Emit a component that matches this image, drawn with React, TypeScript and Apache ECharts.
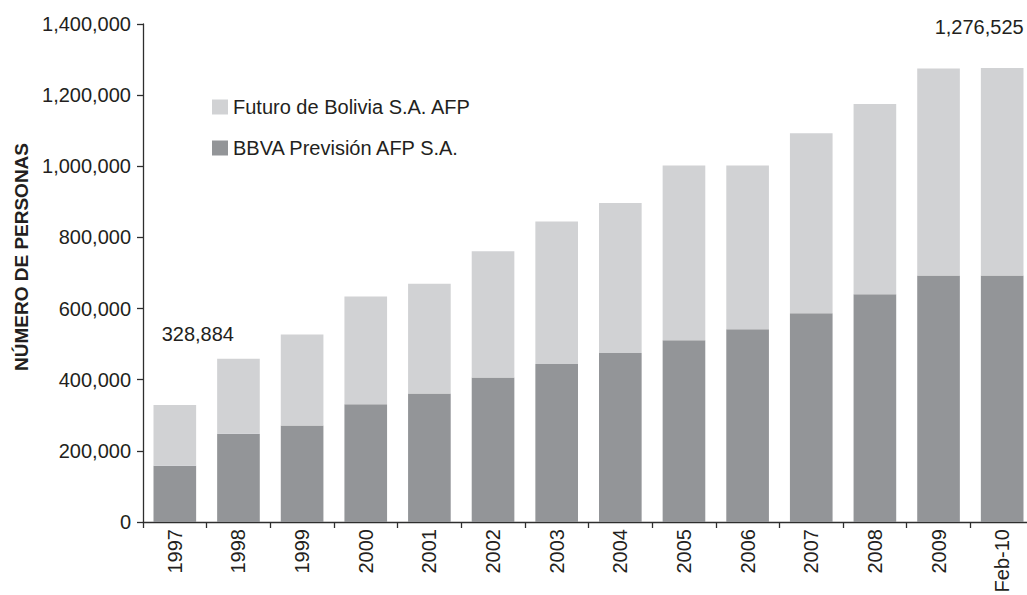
import React, { useEffect, useRef } from "react";
import * as echarts from "echarts";

const categories = ["1997", "1998", "1999", "2000", "2001", "2002", "2003", "2004", "2005", "2006", "2007", "2008", "2009", "Feb-10"];
const bbvaPrevision = [158000, 248000, 271000, 331000, 361000, 406000, 444000, 475000, 511000, 542000, 587000, 640000, 693000, 693000];
const futuroBolivia = [170884, 211000, 256000, 303000, 309000, 355000, 401000, 422000, 491000, 460000, 506000, 535000, 582000, 583525];
const yTicks = [0, 200000, 400000, 600000, 800000, 1000000, 1200000, 1400000];
const labeledIndices = [0, 13];
const seriesNames = ["Futuro de Bolivia S.A. AFP", "BBVA Previsión AFP S.A."];
const yTitle = "NÚMERO DE PERSONAS";

const FONT = "'Liberation Sans', Arial, Helvetica, sans-serif";
const TEXT = "#231f20";

export default function App() {
  const ref = useRef<HTMLDivElement>(null);
  useEffect(() => {
    if (!ref.current) return;
    const chart = echarts.init(ref.current, undefined, { renderer: "svg" });
    const fmt = (v: number) => v.toLocaleString("en-US");
    const labelOffsets: Record<number, number[]> = { 0: [23, -56], 13: [-23, -26] };
    const futuroData = futuroBolivia.map((v, i) =>
      labeledIndices.includes(i)
        ? {
            value: v,
            label: {
              show: true,
              position: "top",
              offset: labelOffsets[i],
              fontSize: 20,
              fontFamily: FONT,
              color: TEXT,
              formatter: () => fmt(bbvaPrevision[i] + futuroBolivia[i]),
            },
          }
        : v
    );
    chart.setOption({
      animation: false,
      backgroundColor: "#ffffff",
      grid: { left: 143, right: 6, top: 24, height: 498, containLabel: false },
      legend: {
        orient: "vertical",
        left: 207,
        top: 92,
        itemWidth: 16,
        itemHeight: 15,
        itemGap: 21,
        icon: "rect",
        data: [seriesNames[0], seriesNames[1]],
        textStyle: { fontSize: 20, fontFamily: FONT, color: TEXT },
      },
      xAxis: {
        type: "category",
        data: categories,
        axisLine: { lineStyle: { color: "#2e2e2e", width: 1.3 } },
        axisTick: { show: true, alignWithLabel: false, length: 6, lineStyle: { color: "#2e2e2e", width: 1.3 } },
        axisLabel: { rotate: 90, fontSize: 20, fontFamily: FONT, color: TEXT, margin: 7, interval: 0 },
      },
      yAxis: {
        type: "value",
        min: yTicks[0],
        max: yTicks[yTicks.length - 1],
        interval: yTicks[1] - yTicks[0],
        splitLine: { show: false },
        axisLine: { show: true, lineStyle: { color: "#2e2e2e", width: 1.3 } },
        axisTick: { show: true, length: 6, lineStyle: { color: "#2e2e2e", width: 1.3 } },
        axisLabel: { fontSize: 20, fontFamily: FONT, color: TEXT, margin: 12, formatter: (v: number) => fmt(v) },
      },
      graphic: [
        {
          type: "text",
          x: 21,
          y: 257,
          rotation: Math.PI / 2,
          style: {
            text: yTitle,
            fontSize: 19,
            fontWeight: "bold",
            fontFamily: FONT,
            fill: TEXT,
            align: "center",
            verticalAlign: "middle",
          },
        },
      ],
      series: [
        {
          name: seriesNames[1],
          type: "bar",
          stack: "total",
          barWidth: "67%",
          data: bbvaPrevision,
          itemStyle: { color: "#939598" },
        },
        {
          name: seriesNames[0],
          type: "bar",
          stack: "total",
          barWidth: "67%",
          data: futuroData,
          itemStyle: { color: "#d1d2d4" },
        },
      ],
    });
    return () => chart.dispose();
  }, []);
  return (
    <div
      ref={ref}
      style={{ position: "fixed", left: 0, top: 0, width: 1040, height: 620, background: "#fff" }}
    />
  );
}
